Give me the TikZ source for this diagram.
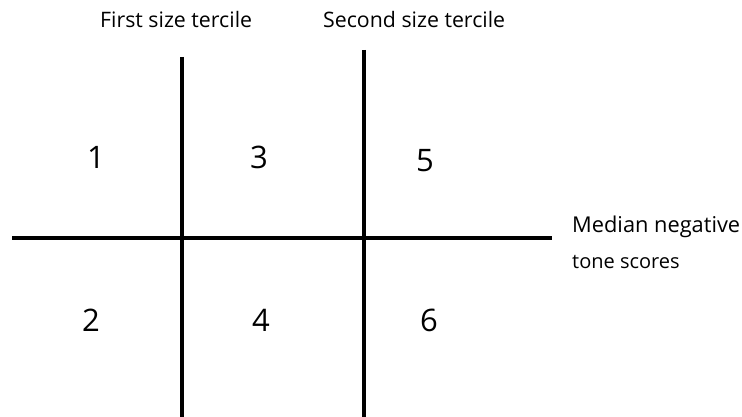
\documentclass[tikz,border=0pt]{standalone}
\usepackage{fontspec}
\setmainfont{Open Sans}
\begin{document}
\begin{tikzpicture}[x=1pt,y=-1pt,
  axisline/.style={line width=4pt, black},
  label/.style={inner sep=0pt, anchor=base west, font=\fontsize{21.3}{24}\selectfont},
  cellnum/.style={inner sep=0pt, font=\fontsize{31}{34}\selectfont}]
\useasboundingbox (0,0) rectangle (742,417);
\coordinate (v1t) at (182,57);
\coordinate (v1b) at (182,417);
\coordinate (v2t) at (364,50);
\coordinate (v2b) at (364,417);
\coordinate (hl) at (12,238);
\coordinate (hr) at (552,238);
\draw[axisline] (v1t) -- (v1b);
\draw[axisline] (v2t) -- (v2b);
\draw[axisline] (hl) -- (hr);
\node[label] (t1) at (100,28) {First size tercile};
\node[label] (t2) at (323,28) {Second size tercile};
\node[label, font=\fontsize{21.8}{24}\selectfont] (m1) at (572,233) {Median negative};
\node[label, font=\fontsize{20}{22}\selectfont] (m2) at (572,268) {tone scores};
\node[cellnum] (c1) at (96,157) {1};
\node[cellnum] (c3) at (259,157) {3};
\node[cellnum] (c5) at (425,161) {5};
\node[cellnum] (c2) at (91,320) {2};
\node[cellnum] (c4) at (261,320) {4};
\node[cellnum] (c6) at (429,320) {6};
\end{tikzpicture}
\end{document}
